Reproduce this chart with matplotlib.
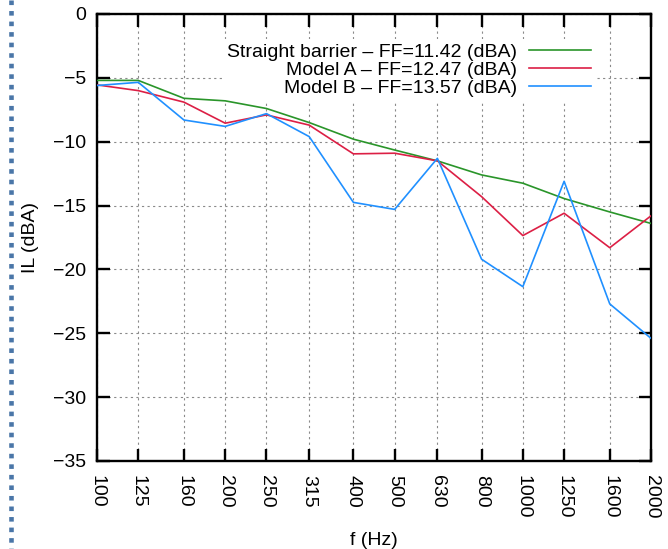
import numpy as np
import matplotlib.pyplot as plt
from matplotlib.lines import Line2D

plt.rcParams['font.family'] = ['Liberation Sans', 'DejaVu Sans']

# one-third octave band centres
freqs = [100, 125, 160, 200, 250, 315, 400, 500, 630, 800, 1000, 1250, 1600, 2000]
freq_labels = [str(f) for f in freqs]

il_straight = [-5.2, -5.2, -6.6, -6.8, -7.4, -8.5, -9.8, -10.65, -11.5, -12.6, -13.25, -14.45, -15.5, -16.4]
il_model_a = [-5.55, -6.0, -6.9, -8.55, -7.9, -8.7, -10.95, -10.9, -11.5, -14.3, -17.35, -15.6, -18.3, -15.8]
il_model_b = [-5.6, -5.35, -8.3, -8.8, -7.8, -9.6, -14.75, -15.3, -11.3, -19.2, -21.35, -13.1, -22.7, -25.4]

series_names = ['Straight barrier \u2013 FF=11.42 (dBA)',
                'Model A \u2013 FF=12.47 (dBA)',
                'Model B \u2013 FF=13.57 (dBA)']
series_colors = ['#2a952a', '#dc1f45', '#2090ff']

y_ticks = [0, -5, -10, -15, -20, -25, -30, -35]

FS = 14


def main():
    fig = plt.figure(figsize=(6.68, 5.49), dpi=100)
    ax = fig.add_axes([0.1452, 0.1603, 0.8294, 0.8142])

    for data, name, col in zip([il_straight, il_model_a, il_model_b], series_names, series_colors):
        ax.plot(freqs, data, color=col, lw=1.2, label=name, zorder=3)

    ax.set_xscale('log')
    ax.set_xlim(100, 2000)
    ax.set_ylim(-35, 0)
    ax.set_xticks(freqs)
    ax.set_xticklabels(freq_labels, rotation=270, fontsize=FS)
    ax.minorticks_off()
    ax.set_yticks(y_ticks)
    ax.set_yticklabels([str(v).replace('-', '\u2212') for v in y_ticks], fontsize=FS)

    ax.tick_params(direction='in', length=9, width=1.7, top=True, right=True, pad=8)
    ax.tick_params(axis='x', pad=10)
    for sp in ax.spines.values():
        sp.set_linewidth(1.7)

    ax.grid(True, color='#8a8a8a', lw=0.8, linestyle=(0, (2, 3)))
    ax.set_axisbelow(True)

    ax.set_xlabel('f (Hz)', fontsize=FS, labelpad=10)
    ax.set_ylabel('IL (dBA)', fontsize=FS, labelpad=10)

    leg = ax.legend(loc='upper right', bbox_to_anchor=(0.9, 0.945), markerfirst=False,
                    frameon=True, fancybox=False, fontsize=FS, handlelength=3.2,
                    handletextpad=0.6, labelspacing=0.02, borderpad=0.25, borderaxespad=0)
    leg.get_frame().set_edgecolor('none')
    leg.get_frame().set_facecolor('white')
    leg.get_frame().set_alpha(1)
    leg._legend_box.align = 'right'
    # key box hides the grid but stays under the curves
    leg.set_zorder(2)

    # dotted border strip on the left edge
    strip = Line2D([11 / 668, 11 / 668], [1.0, 0.0], transform=fig.transFigure,
                   color='#4a76a8', lw=3.3, solid_capstyle='butt', dash_capstyle='butt')
    strip.set_dashes([1.0, 1.3])
    fig.add_artist(strip)

    fig.savefig('out.png', dpi=100)


if __name__ == '__main__':
    main()
